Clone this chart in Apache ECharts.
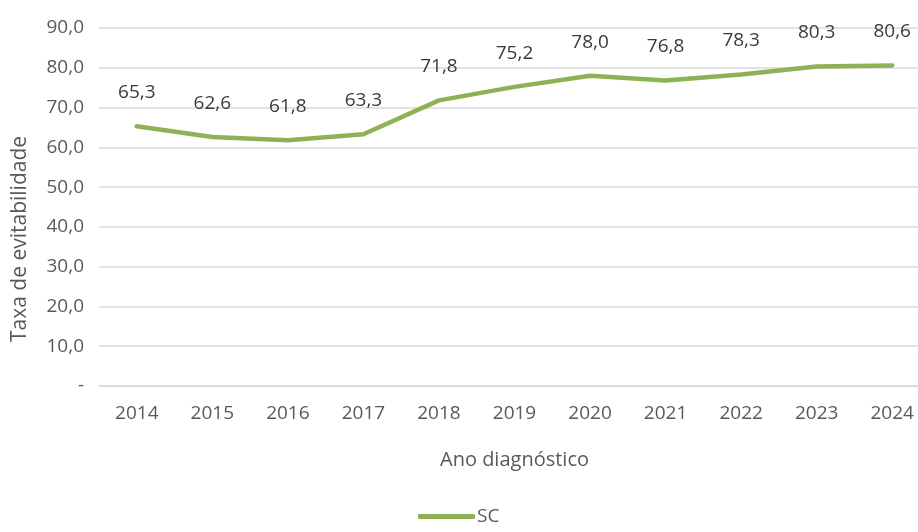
<!DOCTYPE html>
<html>
<head>
<meta charset="utf-8">
<script src="https://cdn.jsdelivr.net/npm/echarts@6/dist/echarts.min.js"></script>
<style>
  html, body { margin: 0; padding: 0; background: #fff; }
  #chart { width: 918px; height: 532px; }
</style>
</head>
<body>
<div id="chart"></div>
<script>
const years = ['2014', '2015', '2016', '2017', '2018', '2019', '2020', '2021', '2022', '2023', '2024'];
const scValues = [65.3, 62.6, 61.8, 63.3, 71.8, 75.2, 78.0, 76.8, 78.3, 80.3, 80.6];
const seriesName = 'SC';
const yTitle = 'Taxa de evitabilidade';
const xTitle = 'Ano diagnóstico';

const fmt = v => v === 0 ? '-' : v.toFixed(1).replace('.', ',');
const font = 'Open Sans';

const myChart = echarts.init(document.getElementById('chart'));
const option = {
    animation: false,
    textStyle: {fontFamily: font},
    grid: {left: 99, right: -12, top: 28, bottom: 146, outerBoundsMode: 'none'},
    legend: {
        data: [seriesName],
        left: 413,
        bottom: 1,
        icon: 'roundRect',
        itemWidth: 57,
        itemHeight: 5,
        textStyle: {fontFamily: font, fontSize: 19, color: '#595959', padding: [0, 0, 0, -3]}
    },
    xAxis: {
        type: 'category',
        data: years,
        name: xTitle,
        nameLocation: 'middle',
        nameGap: 64,
        nameTextStyle: {fontFamily: font, fontSize: 20, color: '#595959'},
        axisLine: {lineStyle: {color: '#d9d9d9', width: 1.5}},
        axisTick: {show: false},
        axisLabel: {fontFamily: font, fontSize: 19, color: '#595959', margin: 18}
    },
    yAxis: {
        type: 'value',
        min: 0,
        max: 90,
        interval: 10,
        name: yTitle,
        nameLocation: 'middle',
        nameGap: 68,
        nameTextStyle: {fontFamily: font, fontSize: 21, color: '#595959', padding: [0, 64, 0, 0]},
        axisLine: {show: false},
        axisTick: {show: false},
        splitLine: {lineStyle: {color: '#d9d9d9', width: 1.5}},
        axisLabel: {fontFamily: font, fontSize: 19, color: '#595959', margin: 15, formatter: fmt}
    },
    series: [{
        name: seriesName,
        type: 'line',
        data: scValues,
        symbol: 'circle',
        symbolSize: 0,
        showSymbol: true,
        lineStyle: {color: '#8db255', width: 4.5, cap: 'round', join: 'round'},
        itemStyle: {color: '#8db255'},
        label: {
            show: true,
            position: 'top',
            distance: 24,
            fontFamily: font,
            fontSize: 19,
            color: '#3a3a3a',
            formatter: p => fmt(p.value)
        }
    }]
};
myChart.setOption(option);
</script>
</body>
</html>
